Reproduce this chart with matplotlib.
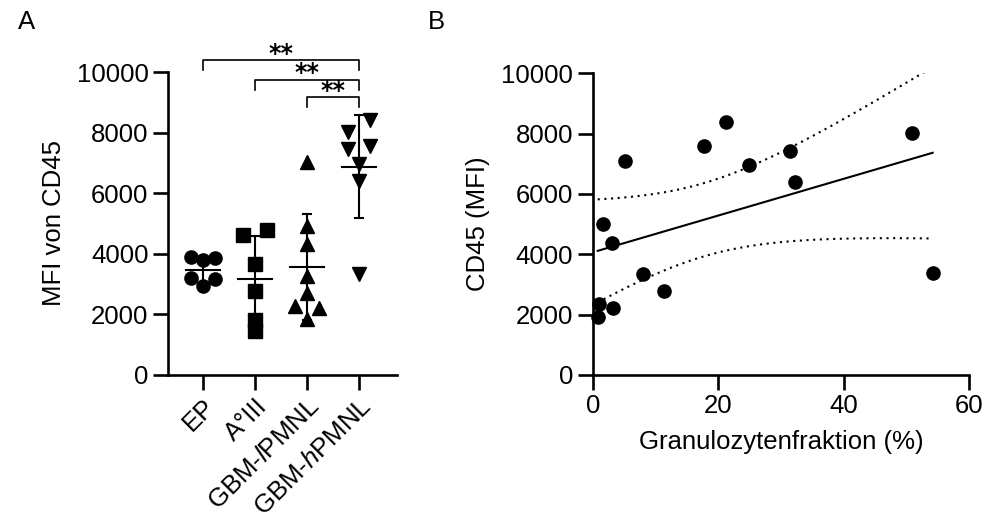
import numpy as np
import matplotlib
matplotlib.use("Agg")
import matplotlib.pyplot as plt

plt.rcParams['font.family'] = ['Liberation Sans', 'DejaVu Sans']
plt.rcParams['mathtext.fontset'] = 'custom'
plt.rcParams['mathtext.rm'] = 'Liberation Sans'
plt.rcParams['mathtext.it'] = 'Liberation Sans:italic'

# ---------------- data ----------------
categories = ['EP', 'A°III', 'GBM-$\\mathit{l}$PMNL', 'GBM-$\\mathit{h}$PMNL']
ep_vals = [3900, 3780, 3870, 3200, 2930, 3170]
a3_vals = [4620, 4770, 3670, 2760, 1820, 1440]
lpmnl_vals = [7020, 4920, 4310, 3260, 2710, 2265, 2210, 1860]
hpmnl_vals = [8010, 8400, 7460, 7570, 6960, 6390, 3340]
group_vals = [ep_vals, a3_vals, lpmnl_vals, hpmnl_vals]
group_markers = ['o', 's', '^', 'v']
yticks_a = [0, 2000, 4000, 6000, 8000, 10000]
sig_pairs = [(0, 3), (1, 3), (2, 3)]
sig_labels = ['**', '**', '**']

gran_frac = [5.15, 0.8, 1.0, 3.3, 1.6, 3.0, 8.0, 11.3, 17.7, 21.2, 24.9, 31.5, 32.3, 50.9, 54.2]
cd45_mfi = [7090, 1910, 2350, 2230, 4990, 4365, 3350, 2785, 7600, 8390, 6950, 7440, 6400, 8020, 3370]
xticks_b = [0, 20, 40, 60]
yticks_b = [0, 2000, 4000, 6000, 8000, 10000]

# jitter (layout) offsets for the scatter columns
jitter = [
    [-0.225, 0, 0.225, -0.225, 0, 0.225],
    [-0.225, 0.225, 0, 0, 0, 0],
    [0, 0, 0, 0, 0, -0.225, 0.225, 0],
    [-0.22, 0.22, -0.22, 0.22, 0, 0, 0],
]

FS = 18.5
LW = 1.9
W, H = 987, 520
fig = plt.figure(figsize=(W / 100, H / 100), dpi=100)

def style_axes(ax):
    for s in ['top', 'right']:
        ax.spines[s].set_visible(False)
    for s in ['left', 'bottom']:
        ax.spines[s].set_linewidth(LW)
    ax.tick_params(axis='both', which='major', length=11, width=LW,
                   labelsize=FS, pad=3, direction='out')

# ---------------- Panel A ----------------
axA = fig.add_axes([168 / W, 1 - 375 / H, (397 - 168) / W, (375 - 72) / H])
style_axes(axA)
for i, (vals, mk, jit) in enumerate(zip(group_vals, group_markers, jitter)):
    v = np.array(vals, dtype=float)
    x = i + np.array(jit)
    axA.plot(x, v, linestyle='none', marker=mk, color='black', ms=9.5,
             clip_on=False, zorder=3)
    m = v.mean()
    sd = v.std(ddof=1)
    axA.plot([i - 0.33, i + 0.33], [m, m], color='black', lw=1.5, zorder=4)
    axA.plot([i, i], [m - sd, m + sd], color='black', lw=1.5, zorder=4)
    for yy in (m - sd, m + sd):
        axA.plot([i - 0.08, i + 0.08], [yy, yy], color='black', lw=1.5, zorder=4)

axA.set_xlim(-0.673, 3.731)
axA.set_ylim(0, 10000)
axA.set_yticks(yticks_a)
axA.set_xticks(range(len(categories)))
axA.set_xticklabels(categories, rotation=45, ha='right', rotation_mode='anchor')
axA.set_ylabel('MFI von CD45', fontsize=FS, labelpad=8)

# significance brackets
br_levels = [(10390, 10080), (9750, 9410), (9170, 8840)]
for (a, b), lab, (top, drop) in zip(sig_pairs, sig_labels, br_levels):
    axA.plot([a, a, b, b], [drop, top, top, drop], color='black', lw=1.2,
             clip_on=False)
    axA.text((a + b) / 2, top - 30, lab, ha='center', va='baseline',
             fontsize=17, fontweight='bold', family='DejaVu Sans')

fig.text(18 / W, 1 - 22 / H, 'A', fontsize=FS, ha='left', va='center')
fig.text(428 / W, 1 - 22 / H, 'B', fontsize=FS, ha='left', va='center')

# ---------------- Panel B ----------------
axB = fig.add_axes([592.7 / W, 1 - 375 / H, (969 - 592.7) / W, (375 - 73.3) / H])
style_axes(axB)
xb = np.array(gran_frac)
yb = np.array(cd45_mfi, dtype=float)
axB.plot(xb, yb, linestyle='none', marker='o', color='black', ms=9.5,
         clip_on=False, zorder=3)

slope, intercept = np.polyfit(xb, yb, 1)
n = len(xb)
resid = yb - (slope * xb + intercept)
s = np.sqrt(np.sum(resid ** 2) / (n - 2))
sxx = np.sum((xb - xb.mean()) ** 2)
t = 2.160  # t(0.975, df=13)
xl = np.linspace(xb.min(), xb.max(), 200)
yl = slope * xl + intercept
half = t * s * np.sqrt(1 / n + (xl - xb.mean()) ** 2 / sxx)
axB.plot(xl, yl, color='black', lw=1.5)
axB.plot(xl, yl + half, color='black', lw=1.5, linestyle=(0, (1, 2.2)))
axB.plot(xl, yl - half, color='black', lw=1.5, linestyle=(0, (1, 2.2)))

axB.set_xlim(0, 60)
axB.set_ylim(0, 10000)
axB.set_xticks(xticks_b)
axB.set_yticks(yticks_b)
axB.set_xlabel('Granulozytenfraktion (%)', fontsize=FS, labelpad=8)
axB.set_ylabel('CD45 (MFI)', fontsize=FS, labelpad=8)

fig.savefig('out.png', dpi=100)
